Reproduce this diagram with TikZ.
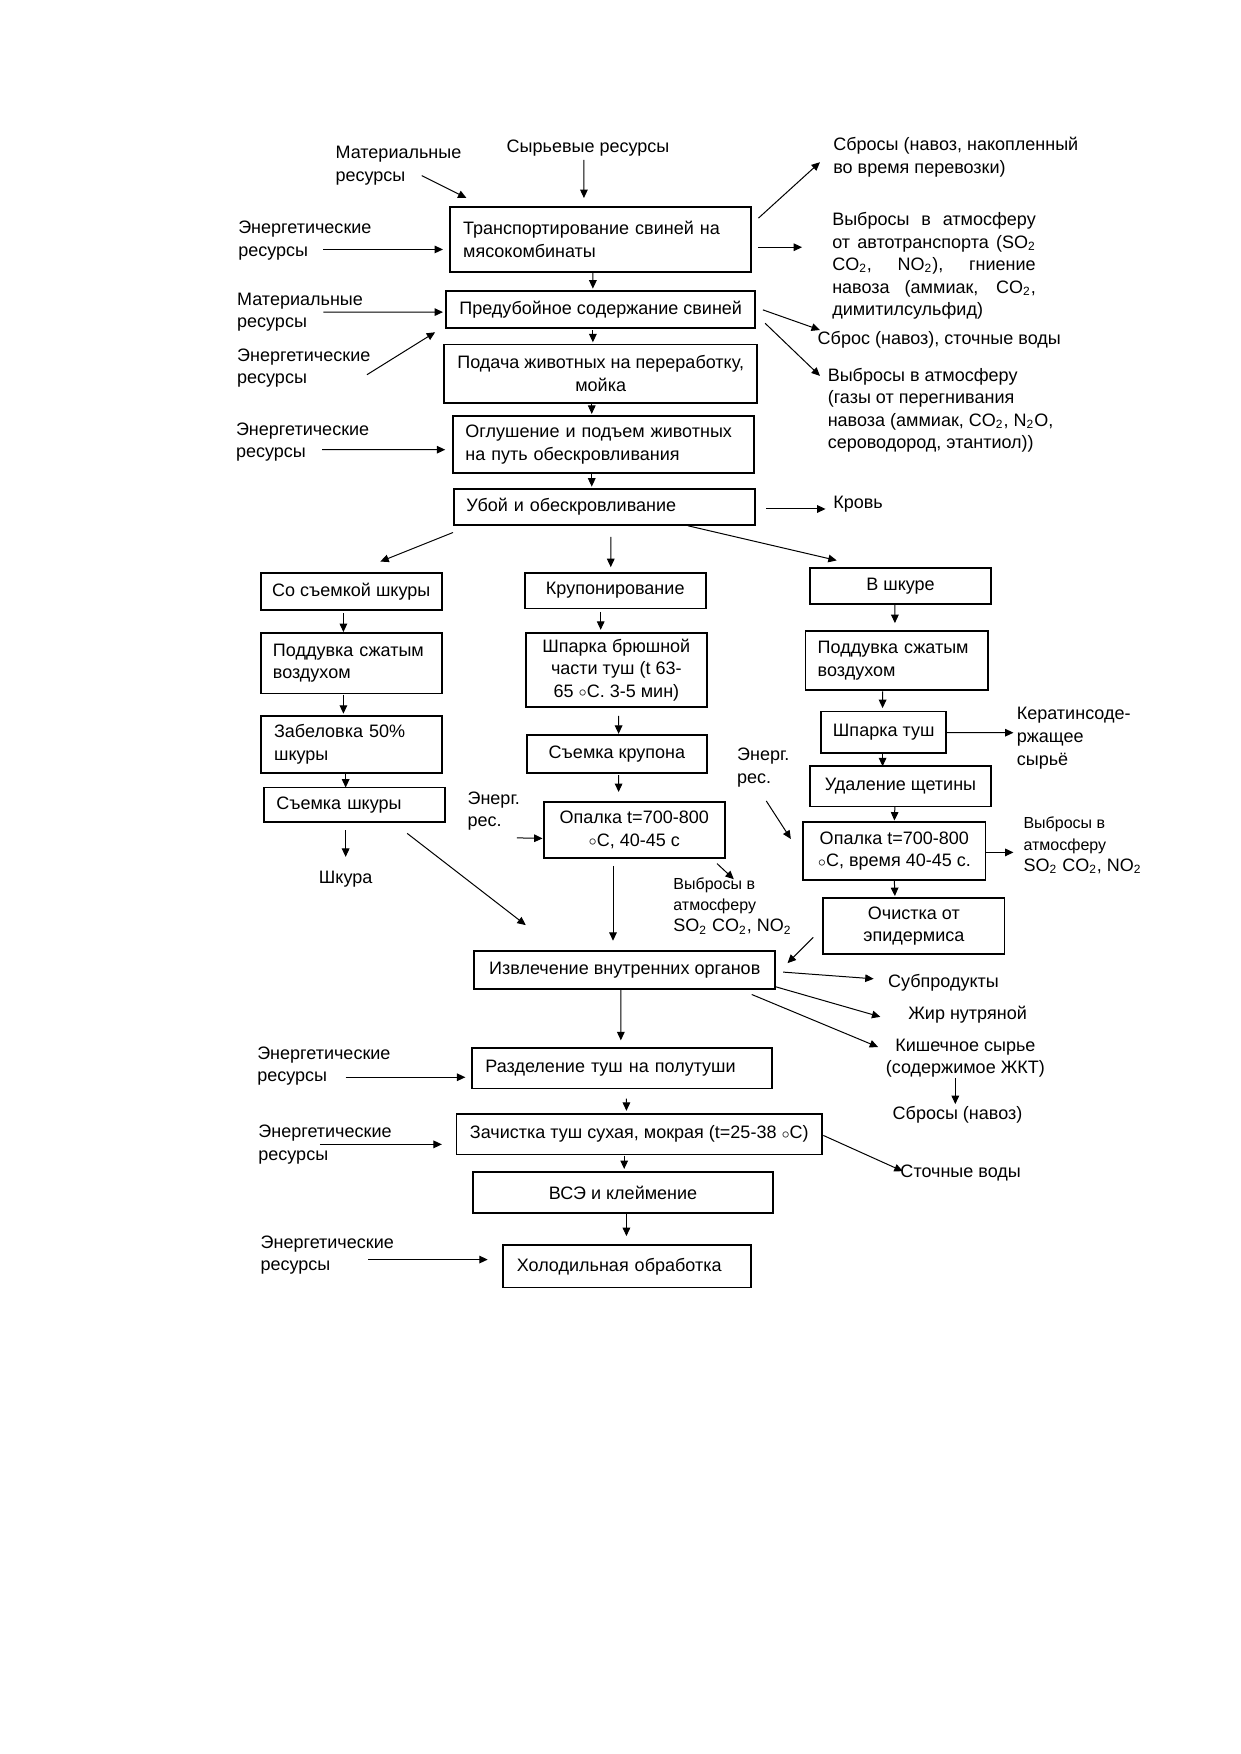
\documentclass[tikz,border=0pt]{standalone}
\usepackage{fontspec}
\setmainfont{Liberation Sans}
\usetikzlibrary{arrows.meta,calc}
\newcommand\degc{\raisebox{0.3pt}{\scriptsize$\circ$}C}
\newcommand\sub[1]{\textsubscript{#1}}
\begin{document}
\begin{tikzpicture}[x=0.559pt,y=-0.559pt,
  font=\fontsize{9}{11.2}\selectfont,
  box/.style={draw,line width=0.9pt,inner sep=0pt,outer sep=0pt,anchor=north west,align=center},
  lbox/.style={box,align=left},
  lab/.style={inner sep=0pt,outer sep=0pt,anchor=base west,align=left},
  clab/.style={inner sep=0pt,outer sep=0pt,anchor=base,align=center},
  arr/.style={line width=0.5pt,-{Triangle[length=4.2pt,width=3.8pt]}}]
\fill[white] (0,0) rectangle (1109,1568);
\path[use as bounding box] (0,0) rectangle (1109,1568);

% ---------- boxes ----------
\node[lbox,minimum width=269*0.559pt,minimum height=58*0.559pt,text width=136.96pt,inner xsep=12*0.559pt] (b1) at (402,185) {Транспортирование свиней на\\мясокомбинаты};
\node[box,minimum width=276*0.559pt,minimum height=33*0.559pt] (b2) at (399,260) {Предубойное содержание свиней};
\node[box,minimum width=280*0.559pt,minimum height=52*0.559pt] (b3) at (397,308) {Подача животных на переработку,\\мойка};
\node[lbox,minimum width=269*0.559pt,minimum height=51*0.559pt,text width=138.07pt,inner xsep=11*0.559pt] (b4) at (405,372) {Оглушение и подъем животных\\на путь обескровливания};
\node[lbox,minimum width=269*0.559pt,minimum height=32*0.559pt,text width=138.07pt,inner xsep=11*0.559pt] (b5) at (406,437) {Убой и обескровливание};

\node[box,minimum width=162*0.559pt,minimum height=33*0.559pt] (L1) at (233,512) {Со съемкой шкуры};
\node[lbox,minimum width=162*0.559pt,minimum height=54*0.559pt,text width=78.26pt,inner xsep=11*0.559pt] (L2) at (233,566) {Поддувка сжатым\\воздухом};
\node[lbox,minimum width=162*0.559pt,minimum height=51*0.559pt,text width=77.1pt,inner xsep=12*0.559pt] (L3) at (233,640) {Забеловка 50\%\\шкуры};
\node[lbox,minimum width=162*0.559pt,minimum height=31*0.559pt,text width=78.26pt,inner xsep=11*0.559pt] (L4) at (236,704) {Съемка шкуры};

\node[box,minimum width=162*0.559pt,minimum height=32*0.559pt] (M1) at (469,512) {Крупонирование};
\node[box,minimum width=162*0.559pt,minimum height=66*0.559pt] (M2) at (470,566) {Шпарка брюшной\\части туш (t 63-\\65 \degc. 3-5 мин)};
\node[box,minimum width=161*0.559pt,minimum height=34*0.559pt] (M3) at (471,657) {Съемка крупона};
\node[box,minimum width=162*0.559pt,minimum height=50*0.559pt] (M4) at (486,717) {Опалка t=700-800\\\degc, 40-45 с};

\node[box,minimum width=162*0.559pt,minimum height=32*0.559pt] (R1) at (724,508) {В шкуре};
\node[lbox,minimum width=163*0.559pt,minimum height=53*0.559pt,text width=78.82pt,inner xsep=11*0.559pt] (R2) at (720,564) {Поддувка сжатым\\воздухом};
\node[box,minimum width=112*0.559pt,minimum height=37*0.559pt] (R3) at (734,636) {Шпарка туш};
\node[box,minimum width=162*0.559pt,minimum height=36*0.559pt] (R4) at (724,685) {Удаление щетины};
\node[box,minimum width=163*0.559pt,minimum height=52*0.559pt] (R5) at (718,735) {Опалка t=700-800\\\degc, время 40-45 с.};
\node[box,minimum width=162*0.559pt,minimum height=50*0.559pt] (R6) at (736,803) {Очистка от\\эпидермиса};

\node[box,minimum width=269*0.559pt,minimum height=34*0.559pt] (IO) at (424,850) {Извлечение внутренних органов};
\node[lbox,minimum width=268*0.559pt,minimum height=36*0.559pt,text width=136.4pt,inner xsep=12*0.559pt] (RZ) at (422,937) {Разделение туш на полутуши};
\node[box,minimum width=327*0.559pt,minimum height=36*0.559pt] (ZCH) at (408,996) {Зачистка туш сухая, мокрая (t=25-38 \degc)};
\node[box,minimum width=268*0.559pt,minimum height=36*0.559pt] (VSE) at (423,1048) {ВСЭ и клеймение};
\node[lbox,minimum width=221*0.559pt,minimum height=38*0.559pt,text width=110.1pt,inner xsep=12*0.559pt] (HOL) at (450,1113) {Холодильная обработка};

% ---------- labels (base = baseline of last line) ----------
\node[lab] (matres1) at (300,162) {Материальные\\ресурсы};
\node[lab] (raw) at (453,136) {Сырьевые ресурсы};
\node[lab] (energy1) at (213,229) {Энергетические\\ресурсы};
\node[lab] (matres2) at (212,293) {Материальные\\ресурсы};
\node[lab] (energy2) at (212,343) {Энергетические\\ресурсы};
\node[lab] (energy3) at (211,409) {Энергетические\\ресурсы};
\node[lab] (sbrosy1) at (745,155) {Сбросы (навоз, накопленный\\во время перевозки)};
\node[lab] (vybrosy1) at (744,282) {\makebox[101.7pt][s]{Выбросы в атмосферу}\\
  \makebox[101.7pt][s]{от автотранспорта (SO\sub{2}}\\
  \makebox[101.7pt][s]{CO\sub{2}, NO\sub{2}), гниение}\\
  \makebox[101.7pt][s]{навоза (аммиак, CO\sub{2},}\\
  димитилсульфид)};
\node[lab] (sbros2) at (731,308) {Сброс (навоз), сточные воды};
\node[lab] (vybrosy2) at (740,401) {Выбросы в атмосферу\\(газы от перегнивания\\навоза (аммиак, CO\sub{2}, N\sub{2}O,\\сероводород, этантиол))};
\node[lab] (krov) at (745,455) {Кровь};
\node[clab] (shkura) at (309,790) {Шкура};
\node[lab] (energM) at (418,739) {Энерг.\\рес.};
\node[lab,font=\fontsize{8}{10.6}\selectfont] (vybrM) at (602,833) {Выбросы в\\атмосферу\\{\fontsize{9}{10.6}\selectfont SO\sub{2} CO\sub{2}, NO\sub{2}}};
\node[lab,font=\fontsize{9}{11.5}\selectfont] (keratin) at (909,684) {Кератинсоде-\\ржащее\\сырьё};
\node[lab] (energR) at (659,700) {Энерг.\\рес.};
\node[lab,font=\fontsize{8}{10.6}\selectfont] (vybrR) at (915,779) {Выбросы в\\атмосферу\\{\fontsize{9}{10.6}\selectfont SO\sub{2} CO\sub{2}, NO\sub{2}}};
\node[lab] (subprod) at (794,883) {Субпродукты};
\node[lab] (zhir) at (812,911) {Жир нутряной};
\node[clab] (kishech) at (863,960) {Кишечное сырье\\(содержимое ЖКТ)};
\node[clab] (sbrosyN) at (856,1001) {Сбросы (навоз)};
\node[lab] (stochn) at (805,1053) {Сточные воды};
\node[lab] (energy4) at (230,967) {Энергетические\\ресурсы};
\node[lab] (energy5) at (231,1037) {Энергетические\\ресурсы};
\node[lab] (energy6) at (233,1136) {Энергетические\\ресурсы};

% ---------- arrows ----------
\draw[arr] ($(raw.base west)+(69,7)$) -- ($(b1.north)+(-14.5,-8)$);
\draw[arr] ($(matres1.base west)+(77,-5)$) -- ($(b1.north west)+(15,-8)$);
\draw[arr] ($(energy1.base west)+(76,-6)$) -- ($(b1.west)+(-6,9)$);
\draw[arr] ($(b1.north east)+(7,10)$) -- ($(sbrosy1.base west)+(-12,-10)$);
\draw[arr] ($(b1.east)+(7,7)$) -- ($(vybrosy1.base west)+(-27,-61)$);
\draw[arr] ($(b1.south)+(-6.5,0)$) -- ($(b2.north)+(-7,-2)$);
\draw[arr] ($(matres2.base west)+(77,-14)$) -- ($(b2.west)+(-3,2.5)$);
\draw[arr] ($(energy2.base west)+(116,-8)$) -- ($(b2.south west)+(-10,4)$);
\draw[arr] ($(b2.east)+(7,0.5)$) -- ($(sbros2.base west)+(2,-13)$);
\draw[arr] ($(b2.east)+(9,12.5)$) -- ($(vybrosy2.base west)+(-7,-65)$);
\draw[arr] ($(b2.south)+(-7,2)$) -- ($(b3.north)+(-7,-2)$);
\draw[arr] ($(b3.south)+(-8,1)$) -- ($(b4.north)+(-10.5,-2)$);
\draw[arr] ($(energy3.base west)+(77,-7)$) -- ($(b4.west)+(-7,4.5)$);
\draw[arr] ($(b4.south)+(-10.5,1)$) -- ($(b5.north)+(-11.5,-2)$);
\draw[arr] ($(b5.east)+(10,2)$) -- ($(krov.base west)+(-7,0)$);
\draw[arr] ($(b5.south west)+(-1,7)$) -- ($(L1.north)+(26,-10)$);
\draw[arr] ($(b5.south)+(5.5,11)$) -- ($(M1.north)+(-4,-5)$);
\draw[arr] ($(b5.south)+(74.5,1)$) -- ($(R1.north west)+(24,-7)$);
\draw[arr] ($(L1.south)+(-7,3)$) -- ($(L2.north)+(-7,-1)$);
\draw[arr] ($(L2.south)+(-7,1)$) -- ($(L3.north)+(-7,-2)$);
\draw[arr] ($(L3.south)+(-5,0)$) -- ($(L4.north)+(-8,0)$);
\draw[arr] ($(L4.south)+(-8,7)$) -- ($(shkura.base)+(0,-24)$);
\draw[arr] ($(L4.south east)+(-34,10)$) -- ($(IO.north west)+(46,-23)$);
\draw[arr] ($(M1.south)+(-13,3)$) -- ($(M2.north)+(-14,-3)$);
\draw[arr] ($(M2.south)+(2,8)$) -- ($(M3.north)+(1.5,-1)$);
\draw[arr] ($(M3.south)+(1.5,2)$) -- ($(M4.north)+(-14,-9)$);
\draw[arr] ($(energM.base west)+(44,10)$) -- ($(M4.west)+(-1,7.5)$);
\draw[arr] ($(M4.south)+(-19,7)$) -- ($(IO.north)+(-10.5,-9)$);
\draw[arr] ($(M4.south east)+(-7,5)$) -- ($(vybrM.base west)+(54,-47)$);
\draw[arr] ($(R1.south)+(-5,1)$) -- ($(R2.north)+(-1.5,-7)$);
\draw[arr] ($(R2.south)+(-12.5,1)$) -- ($(R3.north)+(-1,-3)$);
\draw[arr] ($(R3.east)+(0,0.5)$) -- ($(keratin.base west)+(-3,-29)$);
\draw[arr] ($(R3.south)+(-1,1)$) -- ($(R4.north)+(-16,0)$);
\draw[arr] ($(R4.south)+(-5,0)$) -- ($(R5.north)+(0,-1.5)$);
\draw[arr] ($(energR.base west)+(26,16)$) -- ($(R5.west)+(-11,-11)$);
\draw[arr] ($(R5.east)+(0,1)$) -- ($(vybrR.base west)+(-9,-17)$);
\draw[arr] (R5.south) -- ($(R6.north)+(-17,-2)$);
\draw[arr] ($(R6.west)+(-9,10)$) -- ($(IO.east)+(11,-6)$);
\draw[arr] ($(IO.east)+(7,2)$) -- ($(subprod.base west)+(-13,-8)$);
\draw[arr] ($(IO.south east)+(0,-2)$) -- ($(zhir.base west)+(-25,-2)$);
\draw[arr] ($(IO.south east)+(-21,5)$) -- ($(kishech.base)+(-78,-24)$);
\draw[arr] ($(kishech.base)+(-9,4)$) -- ($(sbrosyN.base)+(-2,-14)$);
\draw[arr] ($(IO.south)+(-3.5,1)$) -- ($(RZ.north)+(-1,-7)$);
\draw[arr] ($(energy4.base west)+(79,-4)$) -- ($(RZ.west)+(-6,8)$);
\draw[arr] ($(RZ.south)+(4,9)$) -- ($(ZCH.north)+(-11.5,-3)$);
\draw[arr] ($(energy5.base west)+(55,-14)$) -- ($(ZCH.west)+(-13,9)$);
\draw[arr] ($(ZCH.east)+(1,1)$) -- ($(stochn.base west)+(2,-6)$);
\draw[arr] ($(ZCH.south)+(-13.5,1)$) -- ($(VSE.north)+(1,-3)$);
\draw[arr] ($(VSE.south)+(3,1)$) -- ($(HOL.north)+(-0.5,-8)$);
\draw[arr] ($(energy6.base west)+(96,-10)$) -- ($(HOL.west)+(-14,-6)$);
\end{tikzpicture}
\end{document}
